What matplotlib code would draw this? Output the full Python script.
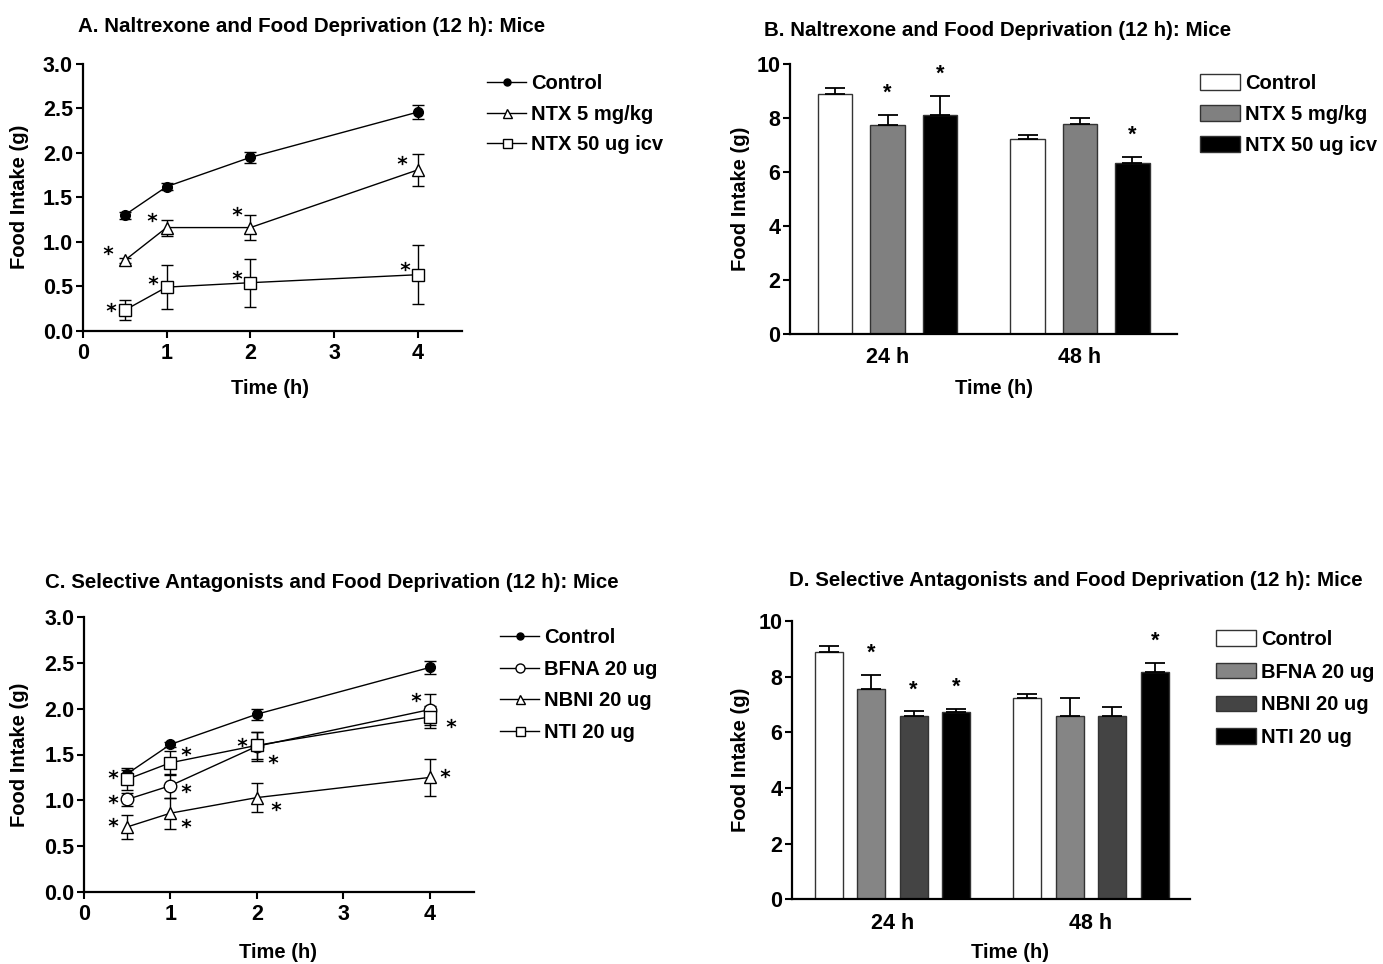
import matplotlib
matplotlib.use("Agg")
import matplotlib.pyplot as plt
from matplotlib.lines import Line2D
import numpy as np

plt.rcParams['font.family'] = ['Liberation Sans', 'DejaVu Sans']
plt.rcParams['font.weight'] = 'bold'
plt.rcParams['axes.labelweight'] = 'bold'

# ---------------- data ----------------
times = [0.5, 1, 2, 4]

# Panel A
a_labels = ["Control", "NTX 5 mg/kg", "NTX 50 ug icv"]
a_control = [1.30, 1.62, 1.95, 2.46]
a_control_err = [0.04, 0.04, 0.06, 0.08]
a_ntx5 = [0.79, 1.16, 1.16, 1.81]
a_ntx5_err = [0.03, 0.09, 0.14, 0.18]
a_ntx50 = [0.23, 0.49, 0.54, 0.63]
a_ntx50_err = [0.11, 0.25, 0.27, 0.33]
a_star_x = [0.30, 0.83, 1.84, 3.81, 0.34, 0.84, 1.84, 3.84]
a_star_y = [0.91, 1.28, 1.35, 1.92, 0.27, 0.57, 0.63, 0.73]

# Panel B
groups = ["24 h", "48 h"]
b_labels = ["Control", "NTX 5 mg/kg", "NTX 50 ug icv"]
b_control = [8.88, 7.23]
b_control_err = [0.22, 0.14]
b_ntx5 = [7.74, 7.78]
b_ntx5_err = [0.37, 0.23]
b_ntx50 = [8.11, 6.33]
b_ntx50_err = [0.71, 0.21]
b_control_sig = [False, False]
b_ntx5_sig = [True, False]
b_ntx50_sig = [True, True]

# Panel C
c_labels = ["Control", "BFNA 20 ug", "NBNI 20 ug", "NTI 20 ug"]
c_control = [1.29, 1.61, 1.94, 2.45]
c_control_err = [0.04, 0.03, 0.06, 0.07]
c_bfna = [1.01, 1.16, 1.59, 1.99]
c_bfna_err = [0.07, 0.13, 0.16, 0.17]
c_nbni = [0.71, 0.86, 1.03, 1.25]
c_nbni_err = [0.13, 0.17, 0.16, 0.20]
c_nti = [1.23, 1.41, 1.60, 1.91]
c_nti_err = [0.12, 0.13, 0.15, 0.12]
c_star_x = [0.33, 0.33, 0.33, 1.18, 1.18, 1.18, 1.83, 2.19, 2.22, 3.84, 4.24, 4.17]
c_star_y = [1.29, 1.02, 0.76, 1.54, 1.13, 0.75, 1.64, 1.45, 0.94, 2.13, 1.84, 1.30]

# Panel D
d_labels = ["Control", "BFNA 20 ug", "NBNI 20 ug", "NTI 20 ug"]
d_control = [8.89, 7.23]
d_control_err = [0.21, 0.15]
d_bfna = [7.56, 6.60]
d_bfna_err = [0.50, 0.63]
d_nbni = [6.59, 6.60]
d_nbni_err = [0.16, 0.30]
d_nti = [6.74, 8.17]
d_nti_err = [0.11, 0.31]
d_control_sig = [False, False]
d_bfna_sig = [True, False]
d_nbni_sig = [True, False]
d_nti_sig = [True, True]

# ---------------- layout helpers ----------------
W, H = 1383, 964
fig = plt.figure(figsize=(W / 100, H / 100), dpi=100)


def px(x, y):
    return x / W, 1 - y / H


def make_ax(left, right, top, bottom):
    return fig.add_axes([left / W, 1 - bottom / H, (right - left) / W, (bottom - top) / H])


FS_TICK = 15.5
FS_LAB = 14.5
FS_TITLE = 14.8
FS_LEG = 14.5


def style_ax(ax):
    for s in ['top', 'right']:
        ax.spines[s].set_visible(False)
    for s in ['left', 'bottom']:
        ax.spines[s].set_linewidth(1.6)
    ax.tick_params(direction='out', length=5, width=1.5, labelsize=FS_TICK, pad=2)
    ax.tick_params(axis='x', pad=3.5)
    for lab in ax.get_xticklabels() + ax.get_yticklabels():
        lab.set_fontweight('bold')


def star(ax, xs, ys):
    ax.scatter(xs, ys, marker='$*$', s=48, color='black', linewidths=0, zorder=5)


def line_panel(ax, series, labels, markers, fills, ylim_top, xmax):
    handles = []
    for (vals, errs), lab, m, f in zip(series, labels, markers, fills):
        ms = 7 if (m == 'o' and f == 'black') else 9
        ax.errorbar(times, vals, yerr=errs, color='black', lw=1.0, elinewidth=1.0,
                    capsize=4.5, capthick=1.0, marker=m, markersize=ms,
                    markerfacecolor=f, markeredgecolor='black', markeredgewidth=1.0,
                    zorder=3)
        handles.append(Line2D([], [], color='black', lw=1.0, marker=m,
                              markersize=ms * 0.72, markerfacecolor=f,
                              markeredgecolor='black', markeredgewidth=1.0, label=lab))
    ax.set_xlim(0, xmax)
    ax.set_ylim(0, ylim_top)
    ax.set_xticks([0, 1, 2, 3, 4])
    ticks = np.arange(0, ylim_top + 0.01, 0.5)
    ax.set_yticks(ticks)
    ax.set_yticklabels([f"{v:.1f}" for v in ticks])
    style_ax(ax)
    return handles


def bar_panel(ax, series, labels, colors, sigs, xmax, offset_group):
    n = len(series)
    width = 0.66
    base = np.array([0.0, n - 1 + offset_group])
    for i, ((vals, errs), lab, c, sg) in enumerate(zip(series, labels, colors, sigs)):
        xs = base + i
        ax.bar(xs, vals, width=width, color=c, edgecolor='#333333', linewidth=1.0,
               label=lab, zorder=2)
        ax.errorbar(xs, vals, yerr=[np.zeros(len(vals)), errs], fmt='none',
                    ecolor='black', elinewidth=1.3, capsize=7.5, capthick=1.3, zorder=3)
        for x, v, e, s in zip(xs, vals, errs, sg):
            if s:
                ax.annotate('*', xy=(x, v + e), xytext=(0, 8), textcoords='offset points',
                            ha='center', va='bottom', fontsize=15.5, fontweight='bold')
    ax.set_xlim(-0.86, xmax)
    ax.set_ylim(0, 10)
    ax.set_yticks([0, 2, 4, 6, 8, 10])
    ax.set_xticks(base + (n - 1) / 2)
    ax.set_xticklabels(groups)
    style_ax(ax)
    ax.tick_params(axis='x', length=0, pad=10)


def leg_kw(spacing):
    return dict(bbox_transform=fig.transFigure, loc='upper left', frameon=False,
                handletextpad=0.25, labelspacing=spacing, borderpad=0, borderaxespad=0,
                prop={'weight': 'bold', 'size': FS_LEG})

# ---------------- Panel A ----------------
axA = make_ax(82.7, 461.7, 64, 330.7)
hA = line_panel(axA, [(a_control, a_control_err), (a_ntx5, a_ntx5_err), (a_ntx50, a_ntx50_err)],
                a_labels, ['o', '^', 's'], ['black', 'white', 'white'], 3.0, 4.52)
star(axA, a_star_x, a_star_y)
axA.legend(handles=hA, bbox_to_anchor=px(487, 74), handlelength=1.95, **leg_kw(0.58))

# ---------------- Panel B ----------------
axB = make_ax(790, 1177, 64, 333.5)
bar_panel(axB, [(b_control, b_control_err), (b_ntx5, b_ntx5_err), (b_ntx50, b_ntx50_err)],
          b_labels, ['white', '#808080', 'black'], [b_control_sig, b_ntx5_sig, b_ntx50_sig],
          6.52, 1.67)
axB.legend(bbox_to_anchor=px(1200, 74), handlelength=2.0, handleheight=0.8, **leg_kw(0.6))

# ---------------- Panel C ----------------
axC = make_ax(84, 474, 617, 892)
hC = line_panel(axC, [(c_control, c_control_err), (c_bfna, c_bfna_err), (c_nbni, c_nbni_err),
                      (c_nti, c_nti_err)],
                c_labels, ['o', 'o', '^', 's'], ['black', 'white', 'white', 'white'], 3.0, 4.51)
star(axC, c_star_x, c_star_y)
axC.legend(handles=hC, bbox_to_anchor=px(500, 628), handlelength=1.95, **leg_kw(0.63))

# ---------------- Panel D ----------------
axD = make_ax(792, 1190, 621, 899.3)
bar_panel(axD, [(d_control, d_control_err), (d_bfna, d_bfna_err), (d_nbni, d_nbni_err),
                (d_nti, d_nti_err)],
          d_labels, ['white', '#858585', '#444444', 'black'],
          [d_control_sig, d_bfna_sig, d_nbni_sig, d_nti_sig], 8.5, 1.67)
axD.legend(bbox_to_anchor=px(1216, 630), handlelength=2.0, handleheight=0.8, **leg_kw(0.68))

# ---------------- titles & axis labels ----------------
titles = [
    ("A. Naltrexone and Food Deprivation (12 h): Mice", 78, 26),
    ("B. Naltrexone and Food Deprivation (12 h): Mice", 764, 30),
    ("C. Selective Antagonists and Food Deprivation (12 h): Mice", 45, 582),
    ("D. Selective Antagonists and Food Deprivation (12 h): Mice", 789, 581),
]
for t, x, y in titles:
    fig.text(*px(x, y), t, ha='left', va='center', fontsize=FS_TITLE, fontweight='bold')

for x, y in [(270, 389), (994, 389), (278, 952), (1010, 952)]:
    fig.text(*px(x, y), "Time (h)", ha='center', va='center', fontsize=FS_LAB, fontweight='bold')
for x, y in [(20, 197), (740, 199), (20, 755), (741, 760)]:
    fig.text(*px(x, y), "Food Intake (g)", ha='center', va='center', rotation=90,
             fontsize=FS_LAB, fontweight='bold')

fig.savefig("out.png", dpi=100)
